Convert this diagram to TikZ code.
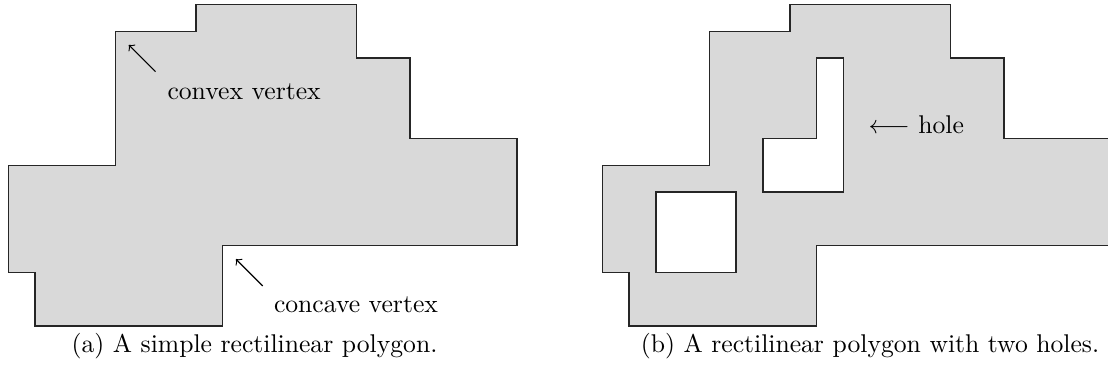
\documentclass[tikz,border=0pt]{standalone}
\usetikzlibrary{arrows}
\begin{document}
\begin{tikzpicture}[x=0.3899pt,y=-0.3899pt,
  poly/.style={draw=black!85,line width=0.6pt,fill=black!15,even odd rule},
  pointer/.style={->,>=to,line width=0.45pt},
  lbl/.style={inner sep=0pt,anchor=base west,font=\normalsize},
  captext/.style={inner sep=0pt,anchor=base,font=\normalsize}]
\useasboundingbox (0,0) rectangle (1108,373);
\begin{scope}
\clip (0,0) rectangle (1108,373);
% (a) simple rectilinear polygon
\begin{scope}[shift={(8.3,4.7)},x=10.44pt,y=-10.44pt]
  \path[poly] (7,0) -- (13,0) -- (13,2) -- (15,2) -- (15,5) -- (19,5) -- (19,9) -- (8,9) -- (8,12) -- (1,12) -- (1,10) -- (0,10) -- (0,6) -- (4,6) -- (4,1) -- (7,1) -- cycle;
  \coordinate (cvxtip) at (4.5,1.5);
  \coordinate (cvxtail) at (5.5,2.5);
  \coordinate (ccvtip) at (8.5,9.5);
  \coordinate (ccvtail) at (9.5,10.5);
\end{scope}
% (b) polygon with two holes
\begin{scope}[shift={(602.3,4.7)},x=10.44pt,y=-10.44pt]
  \path[poly] (7,0) -- (13,0) -- (13,2) -- (15,2) -- (15,5) -- (19,5) -- (19,9) -- (8,9) -- (8,12) -- (1,12) -- (1,10) -- (0,10) -- (0,6) -- (4,6) -- (4,1) -- (7,1) -- cycle
    (8,2) -- (9,2) -- (9,7) -- (6,7) -- (6,5) -- (8,5) -- cycle
    (2,7) -- (5,7) -- (5,10) -- (2,10) -- cycle;
\end{scope}
\end{scope}
\draw[pointer] (cvxtail) -- (cvxtip);
\draw[pointer] (ccvtail) -- (ccvtip);
\node[lbl] (convex) at (167,99) {convex vertex};
\node[lbl] (concave) at (273.5,312.7) {concave vertex};
\node[lbl] (hole) at (868,133.3) {$\longleftarrow$ hole};
\node[captext] (capa) at (254.5,352) {(a) A simple rectilinear polygon.};
\node[captext] (capb) at (870,352) {(b) A rectilinear polygon with two holes.};
\end{tikzpicture}
\end{document}
